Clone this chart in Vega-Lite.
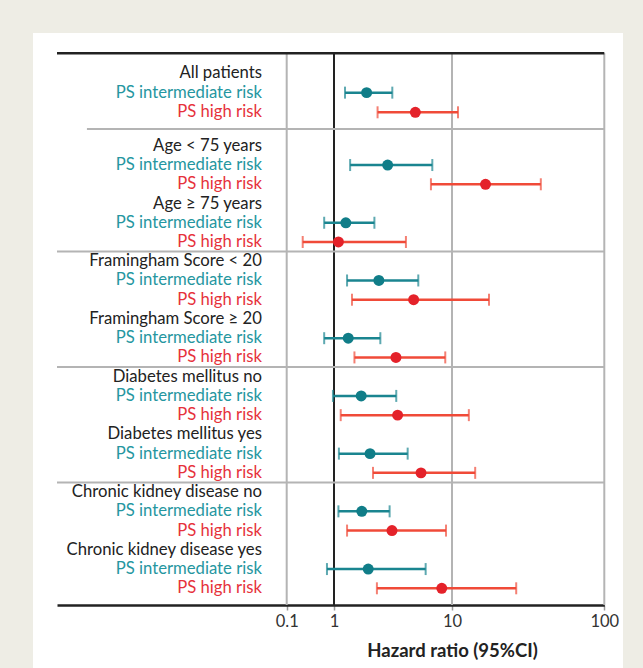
{
  "$schema": "https://vega.github.io/schema/vega-lite/v6.json",
  "width": 590,
  "height": 635,
  "autosize": {"type": "none"},
  "padding": {"left": 33, "top": 33, "right": 20, "bottom": 0},
  "background": "#eeede5",
  "config": {
    "view": {"fill": "white", "stroke": null},
    "font": "Lato",
    "axisX": {
      "grid": false,
      "offset": -63,
      "domainColor": "#222222",
      "domainWidth": 2.5,
      "tickColor": "#9a9a9a",
      "tickSize": 5,
      "tickWidth": 1.5,
      "labelFont": "Lato",
      "labelFontSize": 16.5,
      "labelColor": "#333333",
      "labelPadding": 3,
      "labelFlush": false,
      "labelOverlap": false,
      "titleFont": "Lato",
      "titleFontSize": 18.5,
      "titleFontWeight": "bold",
      "titleColor": "#222222",
      "titleX": 419,
      "titleY": 45,
      "titleAlign": "center",
      "titleBaseline": "middle"
    }
  },
  "datasets": {
    "rows": [
      {"row": 1, "grp": "header", "label": "All patients"},
      {"row": 2, "grp": "int", "label": "PS intermediate risk", "lo": 1.24, "est": 1.89, "hi": 3.12},
      {"row": 3, "grp": "high", "label": "PS high risk", "lo": 2.34, "est": 4.89, "hi": 10.95},
      {"row": 4, "grp": "header", "label": "Age < 75 years"},
      {"row": 5, "grp": "int", "label": "PS intermediate risk", "lo": 1.37, "est": 2.85, "hi": 6.81},
      {"row": 6, "grp": "high", "label": "PS high risk", "lo": 6.63, "est": 16.6, "hi": 38.3},
      {"row": 7, "grp": "header", "label": "Age ≥ 75 years"},
      {"row": 8, "grp": "int", "label": "PS intermediate risk", "lo": 0.62, "est": 1.26, "hi": 2.2},
      {"row": 9, "grp": "high", "label": "PS high risk", "lo": 0.218, "est": 1.09, "hi": 4.07},
      {"row": 10, "grp": "header", "label": "Framingham Score < 20"},
      {"row": 11, "grp": "int", "label": "PS intermediate risk", "lo": 1.29, "est": 2.4, "hi": 5.18},
      {"row": 12, "grp": "high", "label": "PS high risk", "lo": 1.42, "est": 4.73, "hi": 17.5},
      {"row": 13, "grp": "header", "label": "Framingham Score ≥ 20"},
      {"row": 14, "grp": "int", "label": "PS intermediate risk", "lo": 0.62, "est": 1.32, "hi": 2.47},
      {"row": 15, "grp": "high", "label": "PS high risk", "lo": 1.49, "est": 3.35, "hi": 8.77},
      {"row": 16, "grp": "header", "label": "Diabetes mellitus no"},
      {"row": 17, "grp": "int", "label": "PS intermediate risk", "lo": 0.95, "est": 1.7, "hi": 3.37},
      {"row": 18, "grp": "high", "label": "PS high risk", "lo": 1.14, "est": 3.46, "hi": 12.9},
      {"row": 19, "grp": "header", "label": "Diabetes mellitus yes"},
      {"row": 20, "grp": "int", "label": "PS intermediate risk", "lo": 1.1, "est": 2.02, "hi": 4.21},
      {"row": 21, "grp": "high", "label": "PS high risk", "lo": 2.14, "est": 5.46, "hi": 14.2},
      {"row": 22, "grp": "header", "label": "Chronic kidney disease no"},
      {"row": 23, "grp": "int", "label": "PS intermediate risk", "lo": 1.09, "est": 1.72, "hi": 2.96},
      {"row": 24, "grp": "high", "label": "PS high risk", "lo": 1.29, "est": 3.1, "hi": 8.9},
      {"row": 25, "grp": "header", "label": "Chronic kidney disease yes"},
      {"row": 26, "grp": "int", "label": "PS intermediate risk", "lo": 0.71, "est": 1.95, "hi": 5.98},
      {"row": 27, "grp": "high", "label": "PS high risk", "lo": 2.31, "est": 8.19, "hi": 26.4}
    ],
    "verticals": [
      {"v": 0.1, "kind": "grid"},
      {"v": 1, "kind": "ref"},
      {"v": 10, "kind": "grid"},
      {"v": 100, "kind": "grid"}
    ],
    "horizontals": [
      {"row": 0, "from": 0.01, "kind": "top"},
      {"row": 3.5, "from": 0.0135, "kind": "sep"},
      {"row": 9.5, "from": 0.01, "kind": "sep"},
      {"row": 15.5, "from": 0.01, "kind": "sep"},
      {"row": 21.5, "from": 0.01, "kind": "sep"}
    ]
  },
  "layer": [
    {
      "data": {"name": "verticals"},
      "mark": {"type": "rule"},
      "encoding": {
        "x": {
          "field": "v", "type": "quantitative",
          "scale": {"type": "log", "domain": [0.01, 0.1, 1, 10, 100], "range": [24, 253.7, 301, 419, 571.3], "nice": false},
          "axis": {"values": [0.1, 1, 10, 100], "format": "~g", "title": "Hazard ratio (95%CI)"}
        },
        "y": {"datum": 0, "type": "quantitative", "scale": {"type": "linear", "domain": [0, 3, 4, 27, 27.87], "range": [20.3, 79.3, 112.8, 555.3, 572], "nice": false, "zero": false}, "axis": null},
        "y2": {"datum": 27.87},
        "color": {"condition": {"test": "datum.kind === 'ref'", "value": "#222222"}, "value": "#b4b4b4"},
        "strokeWidth": {"value": 2}
      }
    },
    {
      "data": {"name": "horizontals"},
      "mark": {"type": "rule"},
      "encoding": {
        "x": {"field": "from", "type": "quantitative", "axis": {"values": [0.1, 1, 10, 100], "format": "~g", "title": "Hazard ratio (95%CI)"}},
        "x2": {"datum": 100},
        "y": {"field": "row", "type": "quantitative", "axis": null},
        "color": {"condition": {"test": "datum.kind === 'top'", "value": "#222222"}, "value": "#b4b4b4"},
        "strokeWidth": {"condition": {"test": "datum.kind === 'top'", "value": 2.5}, "value": 2}
      }
    },
    {
      "data": {"name": "rows"},
      "transform": [{"filter": "datum.grp !== 'header'"}],
      "mark": {"type": "rule", "strokeWidth": 2.5},
      "encoding": {
        "x": {"field": "lo", "type": "quantitative", "axis": {"values": [0.1, 1, 10, 100], "format": "~g", "title": "Hazard ratio (95%CI)"}},
        "x2": {"field": "hi"},
        "y": {"field": "row", "type": "quantitative", "axis": null},
        "color": {"condition": {"test": "datum.grp === 'high'", "value": "#f04a38"}, "value": "#1a8590"}
      }
    },
    {
      "data": {"name": "rows"},
      "transform": [{"filter": "datum.grp !== 'header'"}],
      "mark": {"type": "tick", "orient": "vertical", "size": 12, "thickness": 2},
      "encoding": {
        "x": {"field": "lo", "type": "quantitative", "axis": {"values": [0.1, 1, 10, 100], "format": "~g", "title": "Hazard ratio (95%CI)"}},
        "y": {"field": "row", "type": "quantitative", "axis": null},
        "color": {"condition": {"test": "datum.grp === 'high'", "value": "#f04a38"}, "value": "#1a8590"}
      }
    },
    {
      "data": {"name": "rows"},
      "transform": [{"filter": "datum.grp !== 'header'"}],
      "mark": {"type": "tick", "orient": "vertical", "size": 12, "thickness": 2},
      "encoding": {
        "x": {"field": "hi", "type": "quantitative", "axis": {"values": [0.1, 1, 10, 100], "format": "~g", "title": "Hazard ratio (95%CI)"}},
        "y": {"field": "row", "type": "quantitative", "axis": null},
        "color": {"condition": {"test": "datum.grp === 'high'", "value": "#f04a38"}, "value": "#1a8590"}
      }
    },
    {
      "data": {"name": "rows"},
      "transform": [{"filter": "datum.grp !== 'header'"}],
      "mark": {"type": "circle", "size": 120, "opacity": 1},
      "encoding": {
        "x": {"field": "est", "type": "quantitative", "axis": {"values": [0.1, 1, 10, 100], "format": "~g", "title": "Hazard ratio (95%CI)"}},
        "y": {"field": "row", "type": "quantitative", "axis": null},
        "color": {"condition": {"test": "datum.grp === 'high'", "value": "#e4222a"}, "value": "#107d88"}
      }
    },
    {
      "data": {"name": "rows"},
      "mark": {"type": "text", "align": "right", "baseline": "middle", "fontSize": 16.7, "font": "Lato"},
      "encoding": {
        "x": {"datum": 0.078, "type": "quantitative", "axis": {"values": [0.1, 1, 10, 100], "format": "~g", "title": "Hazard ratio (95%CI)"}},
        "y": {"field": "row", "type": "quantitative", "axis": null},
        "text": {"field": "label"},
        "color": {
          "condition": [
            {"test": "datum.grp === 'int'", "value": "#2596a0"},
            {"test": "datum.grp === 'high'", "value": "#e6323b"}
          ],
          "value": "#222222"
        }
      }
    }
  ]
}
